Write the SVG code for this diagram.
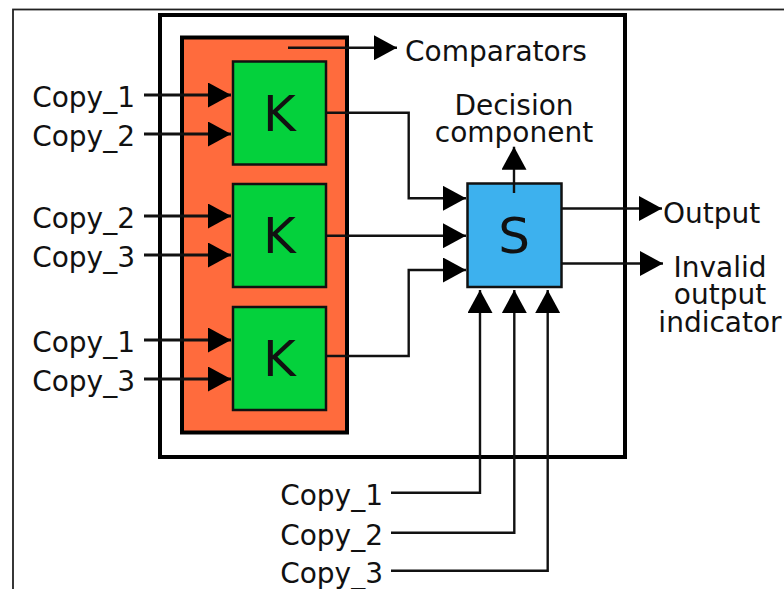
<svg xmlns="http://www.w3.org/2000/svg" width="784" height="589" viewBox="0 0 784 589">
<style>
  text { font-family: "DejaVu Sans", Verdana, sans-serif; fill: #111; }
  .lbl { font-size: 28px; }
  .big { font-size: 50px; text-anchor: middle; }
  .end { text-anchor: end; }
  .mid { text-anchor: middle; }
  .k { fill: #04D13C; stroke: #111; stroke-width: 2.5; }
  .in { stroke: #111; stroke-width: 3; fill: none; }
  .ln { stroke: #111; stroke-width: 2.4; fill: none; }
</style>
<defs>
  <marker id="ah" markerUnits="userSpaceOnUse" viewBox="0 0 23 25" refX="23" refY="12.5" markerWidth="23" markerHeight="25" orient="auto">
    <path d="M0,0 L23,12.5 L0,25 z" fill="#000"/>
  </marker>
</defs>
<rect width="784" height="589" fill="#fff"/>
<g id="frame">
  <rect x="13" y="9.5" width="800" height="620" fill="none" stroke="#222" stroke-width="1.8"/>
</g>
<g id="system">
  <rect x="160" y="15" width="465" height="442" fill="#fff" stroke="#000" stroke-width="4"/>
</g>
<g id="comparators">
  <rect x="182" y="37.5" width="165" height="395" fill="#FF6B3D" stroke="#000" stroke-width="4"/>
  <text class="lbl" x="405" y="60.5">Comparators</text>
</g>
<g id="k1">
  <rect class="k" x="233" y="61.5" width="93" height="103"/>
  <text class="big" x="279.5" y="130.5">K</text>
</g>
<g id="k2">
  <rect class="k" x="233" y="184" width="93" height="103"/>
  <text class="big" x="279.5" y="253">K</text>
</g>
<g id="k3">
  <rect class="k" x="233" y="307" width="93" height="103"/>
  <text class="big" x="279.5" y="376">K</text>
</g>
<g id="s">
  <rect x="467.5" y="183.5" width="94" height="103.5" fill="#3DB1EE" stroke="#111" stroke-width="2.5"/>
  <text class="big" x="514" y="252.5">S</text>
  <text class="lbl mid" x="514" y="115">Decision</text>
  <text class="lbl mid" x="514" y="142">component</text>
</g>
<g id="labels">
  <text class="lbl end" x="135" y="107">Copy_1</text>
  <text class="lbl end" x="135" y="146">Copy_2</text>
  <text class="lbl end" x="135" y="228">Copy_2</text>
  <text class="lbl end" x="135" y="267">Copy_3</text>
  <text class="lbl end" x="135" y="352">Copy_1</text>
  <text class="lbl end" x="135" y="391">Copy_3</text>
  <text class="lbl end" x="383" y="505">Copy_1</text>
  <text class="lbl end" x="383" y="545">Copy_2</text>
  <text class="lbl end" x="383" y="583">Copy_3</text>
  <text class="lbl" x="663" y="222.5">Output</text>
  <text class="lbl mid" x="720" y="277">Invalid</text>
  <text class="lbl mid" x="720" y="304">output</text>
  <text class="lbl mid" x="720" y="331.5">indicator</text>
</g>
<g id="connectors">
  <line class="in" x1="144" y1="95" x2="231" y2="95" marker-end="url(#ah)"/>
  <line class="in" x1="144" y1="134" x2="231" y2="134" marker-end="url(#ah)"/>
  <line class="in" x1="144" y1="216" x2="231" y2="216" marker-end="url(#ah)"/>
  <line class="in" x1="144" y1="255" x2="231" y2="255" marker-end="url(#ah)"/>
  <line class="in" x1="144" y1="340" x2="231" y2="340" marker-end="url(#ah)"/>
  <line class="in" x1="144" y1="379" x2="231" y2="379" marker-end="url(#ah)"/>
  <line class="ln" x1="288" y1="47.7" x2="397" y2="47.7" marker-end="url(#ah)"/>
  <polyline class="ln" points="326,112.7 408.7,112.7 408.7,198.3 466,198.3" marker-end="url(#ah)"/>
  <line class="ln" x1="326" y1="235.7" x2="466" y2="235.7" marker-end="url(#ah)"/>
  <polyline class="ln" points="326,356 408.7,356 408.7,270 466,270" marker-end="url(#ah)"/>
  <line class="ln" x1="514" y1="193" x2="514" y2="146.7" marker-end="url(#ah)"/>
  <line class="ln" x1="562" y1="208.5" x2="662" y2="208.5" marker-end="url(#ah)"/>
  <line class="ln" x1="562" y1="263.5" x2="663" y2="263.5" marker-end="url(#ah)"/>
  <polyline class="ln" points="391,492.7 480,492.7 480,290" marker-end="url(#ah)"/>
  <polyline class="ln" points="391,532.7 514.3,532.7 514.3,290" marker-end="url(#ah)"/>
  <polyline class="ln" points="391,570.7 547.7,570.7 547.7,290" marker-end="url(#ah)"/>
</g>
</svg>
